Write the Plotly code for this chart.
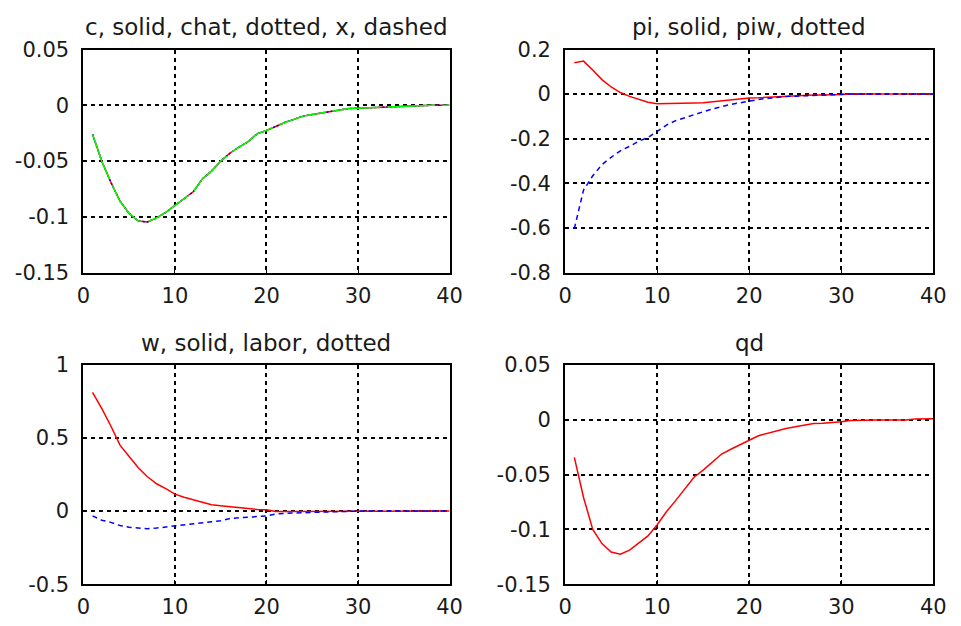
import plotly.graph_objects as go

# ---------------- data ----------------
periods = list(range(1, 41))

c_resp = [-0.026, -0.050, -0.069, -0.086, -0.097, -0.1037, -0.1046, -0.101, -0.096, -0.090,
          -0.084, -0.0775, -0.066, -0.059, -0.050, -0.043, -0.0375, -0.0326, -0.0254, -0.0226,
          -0.019, -0.0154, -0.0126, -0.0097, -0.0083, -0.0069, -0.0054, -0.0037, -0.0029, -0.0026,
          -0.0023, -0.0017, -0.0011, -0.0011, -0.0009, -0.0003, 0.0, 0.0, 0.0, 0.0]
chat_resp = list(c_resp)
x_resp = list(c_resp)

pi_resp = [0.1406, 0.148, 0.108, 0.065, 0.032, 0.007, -0.010, -0.024, -0.036, -0.043,
           -0.043, -0.043, -0.043, -0.040, -0.039, -0.034, -0.030, -0.024, -0.0215, -0.017,
           -0.016, -0.014, -0.011, -0.007, -0.006, -0.006, -0.004, -0.004, -0.004, -0.0015,
           0.0, 0.0, 0.0, 0.0, 0.0, 0.0, 0.0, 0.0, 0.0, 0.0]
piw_resp = [-0.603, -0.430, -0.366, -0.316, -0.283, -0.254, -0.234, -0.211, -0.194, -0.165,
            -0.139, -0.119, -0.105, -0.090, -0.079, -0.067, -0.056, -0.046, -0.039, -0.030,
            -0.024, -0.019, -0.014, -0.011, -0.009, -0.007, -0.006, -0.004, -0.003, -0.001,
            0.0, 0.0, 0.0, 0.0, 0.0, 0.0, 0.0, 0.0, 0.0, 0.0]

w_resp = [0.813, 0.703, 0.582, 0.451, 0.374, 0.297, 0.235, 0.187, 0.154, 0.116,
          0.095, 0.077, 0.059, 0.044, 0.037, 0.031, 0.022, 0.015, 0.011, 0.009,
          -0.002, -0.002, -0.002, -0.002, -0.001, -0.001, -0.001, 0.0, 0.0, 0.0,
          0.0, 0.0, 0.0, 0.0, 0.0, 0.0, 0.0, 0.0, 0.0, 0.0]
labor_resp = [-0.033, -0.062, -0.077, -0.099, -0.110, -0.116, -0.121, -0.116, -0.108, -0.103,
              -0.097, -0.088, -0.081, -0.073, -0.066, -0.051, -0.046, -0.042, -0.037, -0.033,
              -0.020, -0.015, -0.013, -0.011, -0.009, -0.004, -0.002, -0.001, 0.0, 0.0,
              0.0, 0.0, 0.0, 0.0, 0.0, 0.0, 0.0, 0.0, 0.0, 0.0]

qd_resp = [-0.0343, -0.0709, -0.100, -0.113, -0.1206, -0.1227, -0.119, -0.1127, -0.106, -0.0958,
           -0.084, -0.0738, -0.0635, -0.0524, -0.046, -0.0387, -0.0313, -0.0269, -0.0225, -0.0187,
           -0.0146, -0.0123, -0.0102, -0.0079, -0.0064, -0.005, -0.0035, -0.0032, -0.0026, -0.0018,
           -0.0006, -0.0003, -0.0003, -0.0003, -0.0003, -0.0003, -0.0003, 0.0006, 0.0009, 0.0009]

titles = ["c, solid, chat, dotted, x, dashed", "pi, solid, piw, dotted",
          "w, solid, labor, dotted", "qd"]

x_ticks = [0, 10, 20, 30, 40]
x_ticktext = ["0", "10", "20", "30", "40"]
y_ticks_c = [0.05, 0, -0.05, -0.1, -0.15]
y_ticktext_c = ["0.05", "0", "-0.05", "-0.1", "-0.15"]
y_ticks_pi = [0.2, 0, -0.2, -0.4, -0.6, -0.8]
y_ticktext_pi = ["0.2", "0", "-0.2", "-0.4", "-0.6", "-0.8"]
y_ticks_w = [1, 0.5, 0, -0.5]
y_ticktext_w = ["1", "0.5", "0", "-0.5"]
y_ticks_qd = [0.05, 0, -0.05, -0.1, -0.15]
y_ticktext_qd = ["0.05", "0", "-0.05", "-0.1", "-0.15"]

# ---------------- figure ----------------
W, H = 961, 626
RED = "#ff0000"
BLUE = "#0000ff"
GREEN = "#00ff00"
FONT = "DejaVu Sans"
TXT = "#1a1a1a"
TICK_SIZE = 21
TITLE_SIZE = 23

fig = go.Figure()

def add(x, y, color, dash, ax, width=1.5):
    fig.add_trace(go.Scatter(x=x, y=y, mode="lines",
                             line=dict(color=color, dash=dash, width=width),
                             xaxis="x" + ax, yaxis="y" + ax, showlegend=False,
                             hoverinfo="skip"))

add(periods, c_resp, RED, "solid", "")
add(periods, chat_resp, BLUE, "2px,2px", "")
add(periods, x_resp, GREEN, "48px,7px", "")
add(periods, pi_resp, RED, "solid", "2")
add(periods, piw_resp, BLUE, "5px,4px", "2")
add(periods, w_resp, RED, "solid", "3")
add(periods, labor_resp, BLUE, "5px,4px", "3")
add(periods, qd_resp, RED, "solid", "4")

left_dom = [78 / W, 452 / W]
right_dom = [570 / W, 946 / W]
top_dom = [1 - 271 / H, 1 - 39 / H]
bot_dom = [1 - 595 / H, 1 - 367 / H]

def xax(dom, anchor):
    return dict(domain=dom, anchor=anchor, range=[0, 40], tickmode="array",
                tickvals=x_ticks, ticktext=x_ticktext, showgrid=True,
                gridcolor="black", griddash="4px,4px", gridwidth=1.5,
                zeroline=False, showline=True, linecolor="black", linewidth=2,
                mirror=True, ticks="inside", ticklen=4, tickcolor="black",
                ticklabelstandoff=3,
                tickfont=dict(family=FONT, size=TICK_SIZE, color=TXT))

def yax(dom, anchor, rng, tv, tt):
    return dict(domain=dom, anchor=anchor, range=rng, tickmode="array",
                tickvals=tv, ticktext=tt, showgrid=True,
                gridcolor="black", griddash="4px,4px", gridwidth=1.5,
                zeroline=False, showline=True, linecolor="black", linewidth=2,
                mirror=True, ticks="inside", ticklen=4, tickcolor="black",
                ticklabelstandoff=8,
                tickfont=dict(family=FONT, size=TICK_SIZE, color=TXT))

fig.update_layout(
    width=W, height=H, autosize=False,
    margin=dict(l=0, r=0, t=0, b=0),
    paper_bgcolor="white", plot_bgcolor="white",
    xaxis=xax(left_dom, "y"), yaxis=yax(top_dom, "x", [-0.15, 0.05], y_ticks_c, y_ticktext_c),
    xaxis2=xax(right_dom, "y2"), yaxis2=yax(top_dom, "x2", [-0.8, 0.2], y_ticks_pi, y_ticktext_pi),
    xaxis3=xax(left_dom, "y3"), yaxis3=yax(bot_dom, "x3", [-0.5, 1], y_ticks_w, y_ticktext_w),
    xaxis4=xax(right_dom, "y4"), yaxis4=yax(bot_dom, "x4", [-0.15, 0.05], y_ticks_qd, y_ticktext_qd),
)

title_pos = [((left_dom[0] + left_dom[1]) / 2, 1 - 16 / H),
             ((right_dom[0] + right_dom[1]) / 2, 1 - 16 / H),
             ((left_dom[0] + left_dom[1]) / 2, 1 - 344 / H),
             ((right_dom[0] + right_dom[1]) / 2, 1 - 344 / H)]
for t, (px, py) in zip(titles, title_pos):
    fig.add_annotation(text=t, x=px, y=py, xref="paper", yref="paper",
                       xanchor="center", yanchor="middle", showarrow=False,
                       font=dict(family=FONT, size=TITLE_SIZE, color=TXT))

fig.write_html("out.html")
